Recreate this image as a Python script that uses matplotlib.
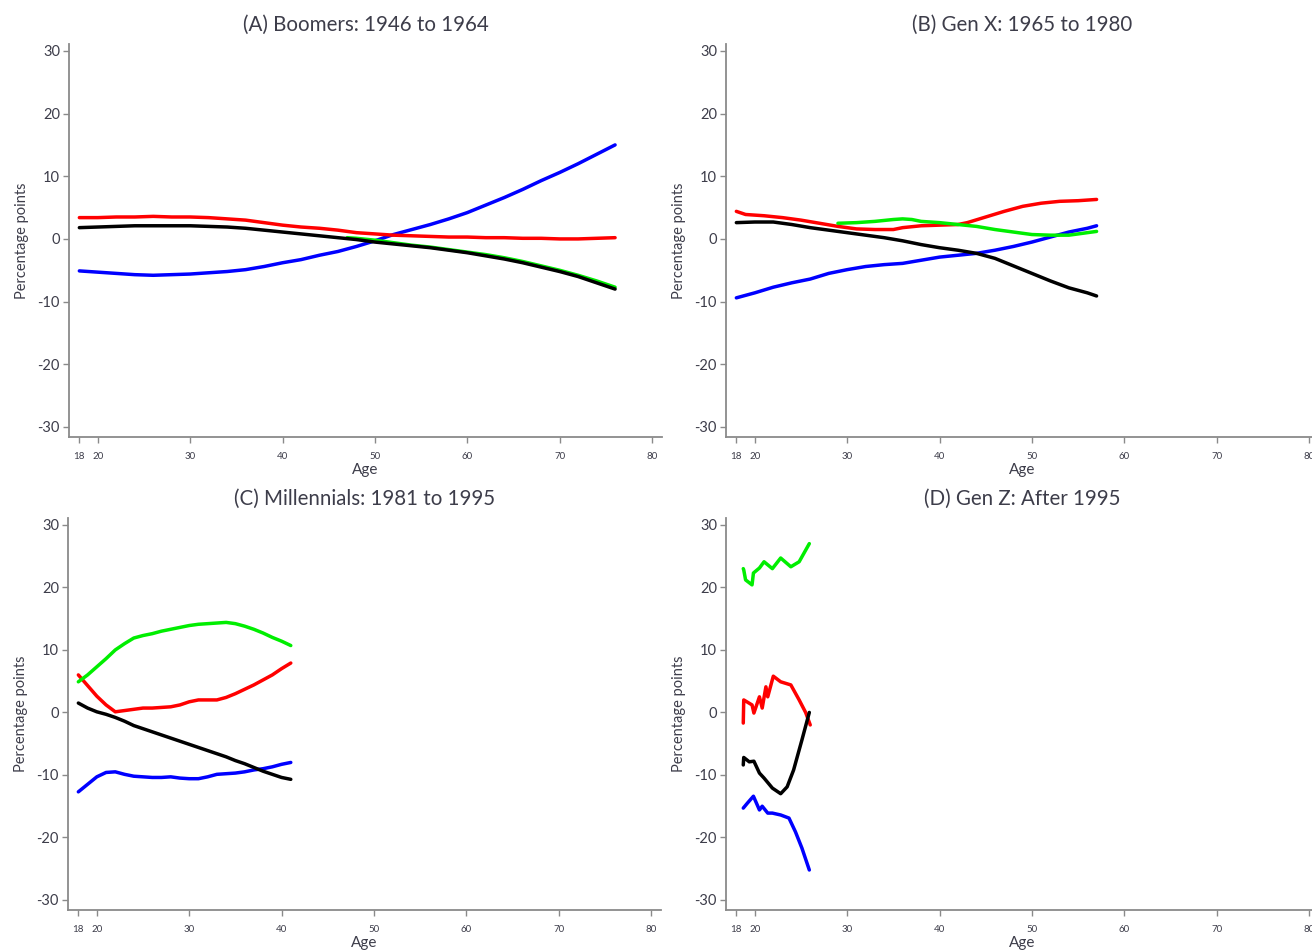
import matplotlib
matplotlib.use("Agg")
import matplotlib.pyplot as plt

# ---------------- data ----------------
# Panel A: Boomers
age_a = [18, 20, 22, 24, 26, 28, 30, 32, 34, 36, 38, 40, 42, 44, 46, 48, 50, 52, 54, 56, 58, 60, 62, 64, 66, 68, 70, 72, 74, 76]
blue_a = [-5.1, -5.3, -5.5, -5.7, -5.8, -5.7, -5.6, -5.4, -5.2, -4.9, -4.4, -3.8, -3.3, -2.6, -2.0, -1.2, -0.3, 0.7, 1.5, 2.3, 3.2, 4.2, 5.4, 6.6, 7.9, 9.3, 10.6, 12.0, 13.5, 15.0]
red_a = [3.4, 3.4, 3.5, 3.5, 3.6, 3.5, 3.5, 3.4, 3.2, 3.0, 2.6, 2.2, 1.9, 1.7, 1.4, 1.0, 0.8, 0.6, 0.5, 0.4, 0.3, 0.3, 0.2, 0.2, 0.1, 0.1, 0.0, 0.0, 0.1, 0.2]
black_a = [1.8, 1.9, 2.0, 2.1, 2.1, 2.1, 2.1, 2.0, 1.9, 1.7, 1.4, 1.1, 0.8, 0.5, 0.2, -0.1, -0.5, -0.8, -1.1, -1.4, -1.8, -2.2, -2.7, -3.2, -3.8, -4.5, -5.2, -6.0, -7.0, -8.0]
age_a_green = [47, 48, 50, 52, 54, 56, 58, 60, 62, 64, 66, 68, 70, 72, 74, 76]
green_a = [0.2, 0.1, -0.2, -0.6, -1.0, -1.3, -1.7, -2.1, -2.5, -3.0, -3.6, -4.3, -5.0, -5.8, -6.7, -7.7]

# Panel B: Gen X
age_b_red = [18, 19, 21, 23, 25, 27, 29, 31, 33, 35, 36, 38, 40, 42, 43, 45, 47, 49, 51, 53, 55, 57]
red_b = [4.4, 3.9, 3.7, 3.4, 3.0, 2.5, 2.0, 1.6, 1.5, 1.5, 1.8, 2.1, 2.2, 2.3, 2.6, 3.5, 4.4, 5.2, 5.7, 6.0, 6.1, 6.3]
age_b_green = [29, 31, 33, 35, 36, 37, 38, 40, 42, 44, 46, 48, 50, 52, 54, 55, 57]
green_b = [2.5, 2.6, 2.8, 3.1, 3.2, 3.1, 2.8, 2.6, 2.3, 2.0, 1.5, 1.1, 0.7, 0.6, 0.6, 0.8, 1.2]
age_b = [18, 20, 22, 24, 26, 28, 30, 32, 34, 36, 38, 40, 42, 44, 46, 48, 50, 52, 54, 56, 57]
black_b = [2.6, 2.7, 2.7, 2.3, 1.8, 1.4, 1.0, 0.6, 0.2, -0.3, -0.9, -1.4, -1.8, -2.3, -3.1, -4.3, -5.5, -6.7, -7.8, -8.6, -9.1]
blue_b = [-9.4, -8.6, -7.7, -7.0, -6.4, -5.5, -4.9, -4.4, -4.1, -3.9, -3.4, -2.9, -2.6, -2.3, -1.8, -1.2, -0.5, 0.3, 1.1, 1.7, 2.1]

# Panel C: Millennials
age_c = [18, 19, 20, 21, 22, 23, 24, 25, 26, 27, 28, 29, 30, 31, 32, 33, 34, 35, 36, 37, 38, 39, 40, 41]
red_c = [6.0, 4.3, 2.6, 1.2, 0.1, 0.3, 0.5, 0.7, 0.7, 0.8, 0.9, 1.2, 1.7, 2.0, 2.0, 2.0, 2.4, 3.0, 3.7, 4.4, 5.2, 6.0, 7.0, 7.9]
green_c = [4.9, 6.0, 7.3, 8.6, 10.0, 11.0, 11.9, 12.3, 12.6, 13.0, 13.3, 13.6, 13.9, 14.1, 14.2, 14.3, 14.4, 14.2, 13.8, 13.3, 12.7, 12.0, 11.4, 10.7]
black_c = [1.5, 0.7, 0.1, -0.3, -0.8, -1.4, -2.1, -2.6, -3.1, -3.6, -4.1, -4.6, -5.1, -5.6, -6.1, -6.6, -7.1, -7.7, -8.2, -8.8, -9.4, -9.9, -10.4, -10.7]
blue_c = [-12.7, -11.5, -10.3, -9.6, -9.5, -9.9, -10.2, -10.3, -10.4, -10.4, -10.3, -10.5, -10.6, -10.6, -10.3, -9.9, -9.8, -9.7, -9.5, -9.2, -9.0, -8.7, -8.3, -8.0]

# Panel D: Gen Z
age_d_green = [18.75, 18.8, 19.0, 19.7, 19.85, 20.5, 21.0, 21.9, 22.8, 23.9, 24.8, 25.9]
green_d = [23.0, 22.8, 21.2, 20.4, 22.3, 23.1, 24.1, 23.0, 24.7, 23.3, 24.1, 27.0]
age_d_red = [18.75, 18.8, 19.7, 19.9, 20.5, 20.8, 21.2, 21.4, 22.0, 22.8, 23.9, 24.8, 25.5, 26.0]
red_d = [-1.7, 2.0, 1.2, -0.1, 2.5, 0.7, 4.1, 2.5, 5.8, 4.9, 4.4, 2.0, 0.0, -2.0]
age_d_black = [18.75, 18.8, 19.4, 19.9, 20.5, 21.0, 21.9, 22.8, 23.5, 24.2, 25.1, 25.9]
black_d = [-8.4, -7.2, -7.9, -7.8, -9.7, -10.5, -12.1, -13.0, -11.9, -9.2, -4.4, 0.0]
age_d_blue = [18.75, 19.2, 19.85, 20.5, 20.8, 21.4, 21.9, 22.8, 23.7, 24.4, 25.1, 25.9]
blue_d = [-15.3, -14.5, -13.4, -15.6, -15.0, -16.1, -16.1, -16.4, -16.9, -19.1, -21.7, -25.2]

titles = ["(A) Boomers: 1946 to 1964", "(B) Gen X: 1965 to 1980",
          "(C) Millennials: 1981 to 1995", "(D) Gen Z: After 1995"]
xticks = [18, 20, 30, 40, 50, 60, 70, 80]
yticks = [-30, -20, -10, 0, 10, 20, 30]

panels = [
    [(age_a, blue_a, "blue"), (age_a, red_a, "red"), (age_a_green, green_a, "#00ee00"), (age_a, black_a, "black")],
    [(age_b, blue_b, "blue"), (age_b_red, red_b, "red"), (age_b_green, green_b, "#00ee00"), (age_b, black_b, "black")],
    [(age_c, blue_c, "blue"), (age_c, red_c, "red"), (age_c, green_c, "#00ee00"), (age_c, black_c, "black")],
    [(age_d_blue, blue_d, "blue"), (age_d_red, red_d, "red"), (age_d_green, green_d, "#00ee00"), (age_d_black, black_d, "black")],
]

# ---------------- layout ----------------
W, H = 1312, 952
plt.rcParams['font.family'] = ['Lato', 'DejaVu Sans']
fig = plt.figure(figsize=(W / 100, H / 100), dpi=100)
fig.patch.set_facecolor("white")

# (left, top, right, bottom) in pixels
boxes = [(69, 44, 662, 437), (726, 44, 1319, 437),
         (68, 518, 661, 910), (726, 518, 1319, 910)]

txt = "#3d3d4a"
axc = "#8a8a8a"

for i, (l, t, r, b) in enumerate(boxes):
    ax = fig.add_axes([l / W, 1 - b / H, (r - l) / W, (b - t) / H])
    ax.set_xlim(16.88, 81.08)
    ax.set_ylim(-31.6, 31.1)
    for x, y, c in panels[i]:
        ax.plot(x, y, color=c, lw=2.5, solid_capstyle="round", solid_joinstyle="round")
    ax.set_xticks(xticks)
    ax.set_xticklabels([str(v) for v in xticks], fontsize=7, color=txt)
    ax.set_yticks(yticks)
    ax.set_yticklabels([str(v) for v in yticks], fontsize=10.5, color=txt)
    for s in ["top", "right"]:
        ax.spines[s].set_visible(False)
    for s in ["left", "bottom"]:
        ax.spines[s].set_color(axc)
        ax.spines[s].set_linewidth(1.3)
    ax.tick_params(axis="both", direction="out", length=4.5, width=1.0, color=axc)
    ax.tick_params(axis="x", pad=6)
    ax.tick_params(axis="y", pad=2)
    ax.set_xlabel("Age", fontsize=11, color=txt, labelpad=2)
    ax.set_ylabel("Percentage points", fontsize=10.5, color=txt, labelpad=6)
    ax.text(0.5, 1 + 19 / (b - t), titles[i], transform=ax.transAxes,
            ha="center", va="center", fontsize=14.8, color=txt)

fig.savefig("out.png", dpi=100, facecolor="white")
